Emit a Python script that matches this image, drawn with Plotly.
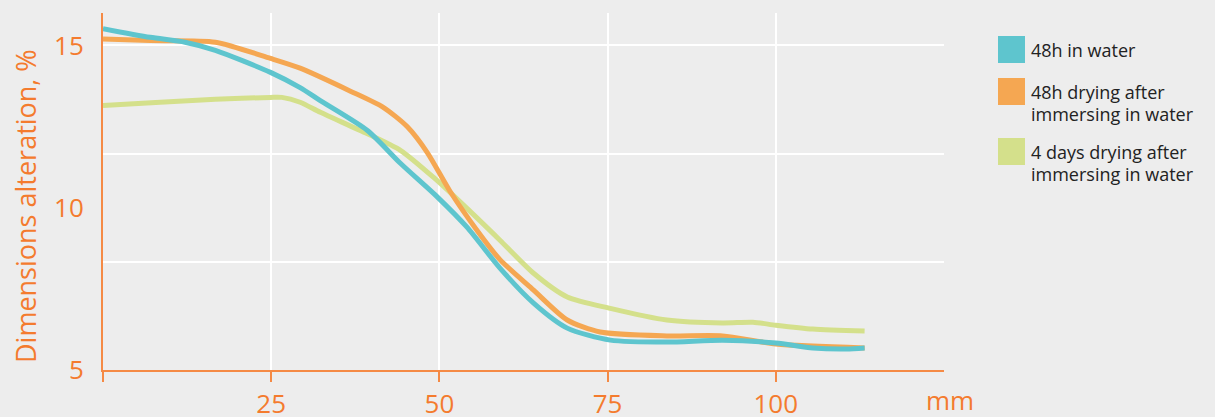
import plotly.graph_objects as go

# data (x in mm, y in %)
x_water = [0, 7, 12.2, 16.7, 24.9, 29.3, 32.3, 39.3, 44.2, 49.75, 54.1, 59, 64, 69, 75.4, 83.8, 92.1, 100, 105.5, 110.5, 113.2]
y_water = [15.52, 15.25, 15.1, 14.85, 14.17, 13.7, 13.3, 12.38, 11.37, 10.32, 9.4, 8.14, 7.06, 6.29, 5.92, 5.86, 5.92, 5.83, 5.68, 5.65, 5.68]

x_dry48 = [0, 7, 16.7, 24.9, 29.3, 36.7, 41.6, 45.2, 48.2, 51.6, 55.6, 59, 64, 69, 73.9, 83.8, 92.1, 100, 113.2]
y_dry48 = [15.2, 15.15, 15.1, 14.6, 14.3, 13.6, 13.1, 12.5, 11.7, 10.5, 9.3, 8.4, 7.46, 6.54, 6.17, 6.05, 6.05, 5.8, 5.68]

x_dry4d = [0, 8.5, 16.7, 24.9, 26.6, 29.3, 32.3, 39.3, 44.2, 49.1, 54.1, 59, 64, 69, 75.4, 83.8, 92.1, 96.6, 100, 105.5, 113.2]
y_dry4d = [13.15, 13.25, 13.34, 13.4, 13.4, 13.25, 12.94, 12.28, 11.77, 10.94, 9.98, 9.0, 7.98, 7.25, 6.9, 6.54, 6.45, 6.47, 6.38, 6.26, 6.2]

names = ["48h in water", "48h drying after<br>immersing in water", "4 days drying after<br>immersing in water"]
colors = ["#5EC5CE", "#F5A752", "#D4E08B"]

x_ticks = [0, 25, 50, 75, 100]
x_ticktext = ["", "25", "50", "75", "100"]
y_ticks = [5, 10, 15]

ORANGE = "#F47B2E"
BG = "#EDEDED"

fig = go.Figure()
series = [(x_water, y_water), (x_dry48, y_dry48), (x_dry4d, y_dry4d)]
for i in [2, 1, 0]:
    xs, ys = series[i]
    fig.add_trace(go.Scatter(x=xs, y=ys, mode="lines", name=names[i],
                             line=dict(color=colors[i], width=5, shape="spline", smoothing=0.7),
                             showlegend=False))

# plot area in pixels
L, T, W, H = 103, 13, 841, 357
def px(x):
    return (x - L) / W
def py(y):
    return (T + H - y) / H

# hand-made legend with square swatches
shapes = []
annotations = []
sw_top = [36, 78, 138]
for i, name in enumerate(names):
    shapes.append(dict(type="rect", xref="paper", yref="paper",
                       x0=px(998), x1=px(1025), y0=py(sw_top[i]), y1=py(sw_top[i] + 27),
                       fillcolor=colors[i], line=dict(width=0)))
    for j, line in enumerate(name.split("<br>")):
        annotations.append(dict(text=line, xref="paper", yref="paper",
                                x=px(1029), y=py(sw_top[i] + 14 + 22 * j),
                                xanchor="left", yanchor="middle", showarrow=False,
                                font=dict(size=18, color="#222222", family="Open Sans")))

annotations.append(dict(text="mm", xref="paper", yref="paper", x=px(950), y=py(400),
                        xanchor="center", yanchor="middle", showarrow=False,
                        font=dict(size=26, color=ORANGE, family="Open Sans")))
annotations.append(dict(text="Dimensions alteration, %", xref="paper", yref="paper",
                        x=px(25), y=py(206), textangle=-90, xanchor="center", yanchor="middle",
                        showarrow=False, font=dict(size=27, color=ORANGE, family="Open Sans")))

fig.update_layout(
    width=1215, height=417,
    margin=dict(l=L, r=1215 - L - W, t=T, b=417 - T - H),
    paper_bgcolor=BG, plot_bgcolor=BG,
    font=dict(family="Open Sans", color=ORANGE),
    xaxis=dict(range=[0, 125], tickvals=x_ticks, ticktext=x_ticktext, automargin=False,
               showgrid=True, gridcolor="white", gridwidth=2, zeroline=False,
               showline=True, linecolor="#F58A45", linewidth=2,
               ticks="outside", ticklen=10, tickcolor="#F58A45", tickwidth=1.5,
               tickfont=dict(size=26, color=ORANGE), ticklabelstandoff=0),
    yaxis=dict(range=[5, 16], tickvals=y_ticks, showgrid=False, zeroline=False, automargin=False,
               showline=True, linecolor="#F58A45", linewidth=2, ticks="",
               tickfont=dict(size=26, color=ORANGE), ticklabelstandoff=12,
               minor=dict(tick0=5, dtick=10 / 3, showgrid=True, gridcolor="white", gridwidth=2, ticks="")),
    shapes=shapes, annotations=annotations,
)

# page body has a default 8px margin; drop it so the figure fills the window
fig.write_html("out.html", config={"displayModeBar": False},
               post_script="document.body.style.margin='0';document.body.style.background='#EDEDED';")
